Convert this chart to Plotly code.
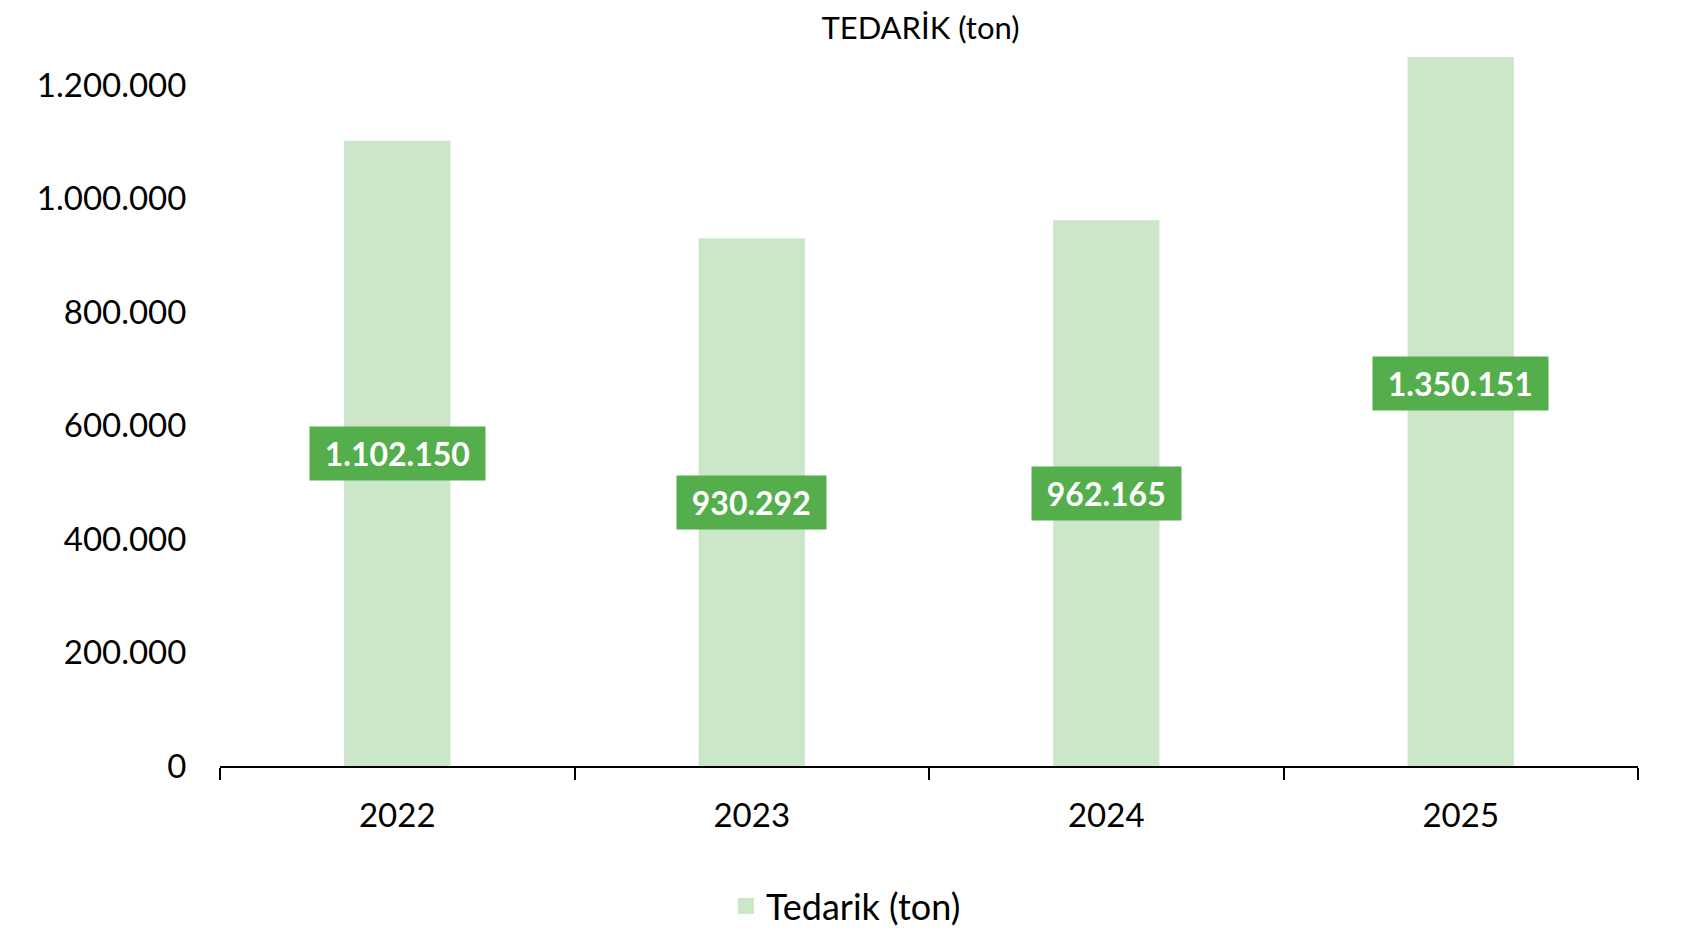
import plotly.graph_objects as go

years = ["2022", "2023", "2024", "2025"]
values = [1102150, 930292, 962165, 1350151]
label_texts = ["1.102.150", "930.292", "962.165", "1.350.151"]
ytick_vals = [0, 200000, 400000, 600000, 800000, 1000000, 1200000]
ytick_text = ["0", "200.000", "400.000", "600.000", "800.000", "1.000.000", "1.200.000"]
series_name = "Tedarik (ton)"

FONT = "Lato"
BAR = "#CCE6CA"
LABEL_BG = "#53AE4B"

fig = go.Figure()
fig.add_trace(go.Bar(
    x=years, y=values, name=series_name,
    marker=dict(color=BAR, line=dict(width=0)),
    showlegend=False,
))
# legend entry with a larger square swatch
fig.add_trace(go.Scatter(
    x=[None], y=[None], mode="markers", name=series_name,
    marker=dict(symbol="square", size=20, color=BAR),
    showlegend=True,
))

for i, (v, t) in enumerate(zip(values, label_texts)):
    fig.add_annotation(
        x=i, y=v / 2, xref="x", yref="y",
        text="\u00a0" + t + "\u00a0", showarrow=False,
        font=dict(family=FONT, size=32, color="white", weight="bold"),
        bgcolor=LABEL_BG, borderpad=7,
    )

fig.update_layout(
    width=1686, height=934,
    paper_bgcolor="white", plot_bgcolor="white",
    margin=dict(l=212, r=56, t=49, b=176),
    bargap=0.7,
    font=dict(family=FONT, size=33, color="black"),
    title=dict(text="TEDARİK (ton)", x=0.494, xref="paper", xanchor="center",
               y=1 - 20 / 934, yref="container", yanchor="middle",
               font=dict(family=FONT, size=31, color="black")),
    legend=dict(orientation="h", xref="container", yref="container",
                x=0.497, xanchor="center", y=1 - 898 / 934, yanchor="middle",
                font=dict(family=FONT, size=36, color="black"),
                itemwidth=30),
)
fig.update_xaxes(
    type="category", range=[-0.5, 3.5], showline=True, linecolor="black", linewidth=1.5,
    ticks="outside", tickson="boundaries", ticklen=12, tickcolor="black", tickwidth=1.5,
    ticklabelstandoff=20,
    showgrid=False, tickangle=0, tickfont=dict(family=FONT, size=33, color="black"),
)
fig.update_yaxes(
    range=[0, 1250000], tickvals=ytick_vals, ticktext=ytick_text,
    showgrid=False, zeroline=False, showline=False,
    ticks="outside", ticklen=26, tickcolor="rgba(0,0,0,0)",
    tickfont=dict(family=FONT, size=33, color="black"),
)

fig.write_html("out.html")
